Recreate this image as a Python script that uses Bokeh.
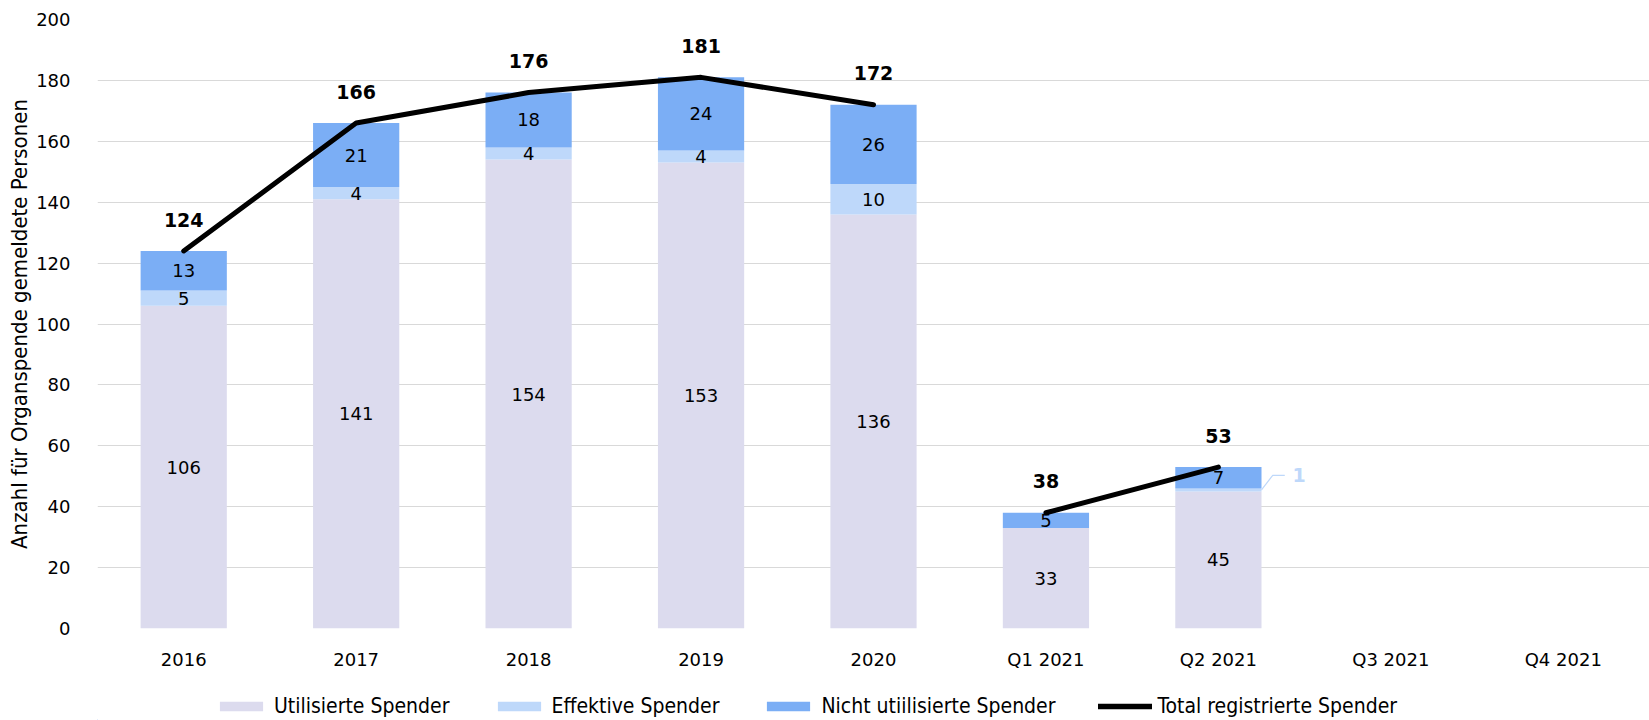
from bokeh.plotting import figure
from bokeh.layouts import column
from bokeh.models import FactorRange, Range1d, Legend, LegendItem, SingleIntervalTicker
from bokeh.embed import file_html
from bokeh.resources import INLINE
from bokeh.core.properties import value

categories = ["2016", "2017", "2018", "2019", "2020", "Q1 2021", "Q2 2021", "Q3 2021", "Q4 2021"]
utilisiert = [106, 141, 154, 153, 136, 33, 45, None, None]
effektiv = [5, 4, 4, 4, 10, 0, 1, None, None]
nicht_utilisiert = [13, 21, 18, 24, 26, 5, 7, None, None]
total = [124, 166, 176, 181, 172, 38, 53, None, None]

series_names = ["Utilisierte Spender", "Effektive Spender", "Nicht utiilisierte Spender"]
line_name = "Total registrierte Spender"
colors = ["#DCDBEE", "#BED8FA", "#7BAEF5"]

FONT_NAME = "DejaVu Sans"
COND_NAME = "'DejaVu Sans Condensed', 'Liberation Sans Narrow', 'DejaVu Sans'"
FONT = value(FONT_NAME)
FS = "18px"

W, H_MAIN, H_LEG = 1649, 690, 30

p = figure(width=W, height=H_MAIN, output_backend="svg", toolbar_location=None,
           x_range=FactorRange(factors=categories, range_padding=0),
           y_range=Range1d(0, 200),
           min_border_left=97, min_border_right=0, min_border_top=19, min_border_bottom=62)
p.outline_line_color = None
p.background_fill_color = "white"
p.border_fill_color = "white"

# stacked bars
xs = [i + 0.5 for i in range(len(categories))]
stacks = [utilisiert, effektiv, nicht_utilisiert]
bottoms = [0.0] * len(categories)
label_x, label_y, label_t = [], [], []
ext = []
for s, col in zip(stacks, colors):
    bx, bb, bt = [], [], []
    for i, v in enumerate(s):
        if v is None:
            continue
        bx.append(xs[i]); bb.append(bottoms[i]); bt.append(bottoms[i] + v)
        if v >= 3:
            label_x.append(xs[i]); label_y.append(bottoms[i] + v / 2); label_t.append(str(v))
        elif v > 0:
            ext.append((xs[i], bottoms[i] + v / 2, str(v)))
        bottoms[i] += v
    p.vbar(x=bx, bottom=bb, top=bt, width=0.5, fill_color=col, line_color=None)

# total line, split between yearly and quarterly values
groups = {}
for i, (c, t) in enumerate(zip(categories, total)):
    if t is None:
        continue
    groups.setdefault(c.startswith("Q"), []).append(i)
for key, idx in groups.items():
    p.line(x=[xs[i] for i in idx], y=[total[i] for i in idx], line_color="black",
           line_width=5, line_cap="round", line_join="round")

# segment labels
p.text(x=label_x, y=label_y, text=label_t, text_font=FONT, text_font_size=FS,
       text_align="center", text_baseline="middle", text_color="black")

# external small labels with leader lines
for (x0, yc, t) in ext:
    bar_edge = x0 + 0.25
    ylab = yc + 4.8
    p.line(x=[bar_edge, bar_edge + 0.065, bar_edge + 0.135], y=[yc, ylab, ylab],
           line_color=colors[1], line_width=1.2)
    p.text(x=[bar_edge + 0.18], y=[ylab], text=[t], text_font=FONT, text_font_size="19px",
           text_font_style="bold", text_align="left", text_baseline="middle", text_color=colors[1])

# total labels
tx = [xs[i] for i, t in enumerate(total) if t is not None]
ty = [t + 10.3 for t in total if t is not None]
tt = [str(t) for t in total if t is not None]
p.text(x=tx, y=ty, text=tt, text_font=FONT, text_font_size="19px", text_font_style="bold",
       text_align="center", text_baseline="middle", text_color="black")

# axes
p.yaxis.ticker = SingleIntervalTicker(interval=20)
p.yaxis.axis_label = "Anzahl für Organspende gemeldete Personen"
p.yaxis.axis_label_text_font = COND_NAME
p.yaxis.axis_label_text_font_size = "22px"
p.yaxis.axis_label_text_font_style = "normal"
p.yaxis.axis_label_text_color = "black"
p.yaxis.axis_label_standoff = 1
for ax in (p.xaxis[0], p.yaxis[0]):
    ax.axis_line_color = None
    ax.major_tick_line_color = None
    ax.minor_tick_line_color = None
    ax.major_tick_out = 0
    ax.major_tick_in = 0
    ax.major_label_text_font = FONT_NAME
    ax.major_label_text_font_size = FS
    ax.major_label_text_color = "black"
p.yaxis.major_label_standoff = 23
p.xaxis.major_label_standoff = 20

p.xgrid.grid_line_color = None
p.ygrid.grid_line_color = "#D9D9D9"
p.ygrid.grid_line_width = 1

# legend strip below the chart (sample glyphs sit outside the visible range)
lg = figure(width=W, height=H_LEG, output_backend="svg", toolbar_location=None,
            x_range=Range1d(0, W), y_range=Range1d(0, H_LEG),
            x_axis_location=None, y_axis_location=None,
            min_border_left=0, min_border_right=0, min_border_top=0, min_border_bottom=0)
lg.outline_line_color = None
lg.grid.grid_line_color = None
leg_renderers = [lg.vbar(x=[-1000], bottom=[0], top=[1], width=1, fill_color=c, line_color=None)
                 for c in colors]
leg_renderers.append(lg.line(x=[-1000, -999], y=[0, 0], line_color="black", line_width=5.5,
                             line_cap="round"))
legend = Legend(items=[LegendItem(label=n, renderers=[r]) for n, r in zip(series_names + [line_name], leg_renderers)],
                orientation="horizontal", location=(117, 2), margin=0, padding=0,
                spacing=42, glyph_width=54, glyph_height=12, label_height=20, label_standoff=6,
                label_text_font=COND_NAME, label_text_font_size="21px", label_text_color="black",
                label_text_baseline="middle",
                border_line_color=None, background_fill_alpha=0)
lg.add_layout(legend, "center")

layout = column(p, lg, spacing=0)
open("out.html", "w").write(file_html(layout, INLINE))
